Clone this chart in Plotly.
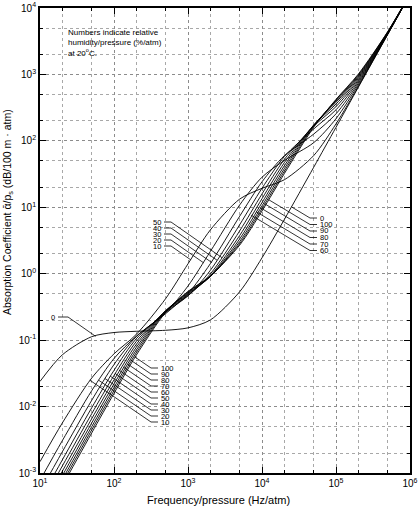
import numpy as np
import plotly.graph_objects as go

# frequency / pressure (Hz/atm)
FREQ = [10, 20, 50, 1e2, 2e2, 5e2, 1e3, 2e3, 5e3, 1e4, 2e4, 5e4, 1e5, 2e5, 5e5, 1e6]

# absorption coefficient (dB/100 m.atm), one list per relative humidity/pressure
RH_0 = [0.0239, 0.0600, 0.1128, 0.1302, 0.1359, 0.1408, 0.1531, 0.2010, 0.5366, 1.735, 6.527, 40.09, 159.9, 639.3, 3995, 15980]
RH_10 = [0.00148, 0.00565, 0.0269, 0.0622, 0.1220, 0.4231, 1.409, 4.549, 13.31, 19.32, 25.94, 60.08, 180.0, 659.4, 4015, 16000]
RH_20 = [0.000775, 0.00306, 0.01736, 0.0529, 0.1147, 0.2590, 0.6535, 2.156, 10.87, 28.38, 50.56, 93.96, 215.6, 695.5, 4051, 16036]
RH_30 = [0.000523, 0.00208, 0.01243, 0.0429, 0.1126, 0.2511, 0.5005, 1.412, 7.355, 24.19, 59.77, 126.6, 255.0, 736.7, 4093, 16078]
RH_40 = [0.000395, 0.00157, 0.00960, 0.0351, 0.1049, 0.2624, 0.4654, 1.121, 5.483, 19.36, 57.83, 151.2, 293.3, 779.8, 4138, 16123]
RH_50 = [0.000317, 0.00127, 0.00781, 0.0294, 0.0954, 0.2728, 0.4664, 0.9886, 4.424, 15.89, 52.42, 166.1, 328.0, 822.8, 4183, 16169]
RH_60 = [0.000265, 0.00106, 0.00657, 0.0252, 0.0862, 0.2783, 0.4802, 0.9281, 3.772, 13.47, 46.85, 172.8, 357.6, 864.6, 4230, 16216]
RH_70 = [0.000228, 0.000909, 0.00567, 0.0219, 0.0779, 0.2791, 0.4977, 0.9039, 3.345, 11.75, 42.02, 173.6, 381.5, 904.7, 4276, 16264]
RH_80 = [0.000199, 0.000797, 0.00498, 0.0194, 0.0708, 0.2759, 0.5149, 0.8999, 3.052, 10.49, 38.02, 170.8, 399.6, 942.3, 4322, 16311]
RH_90 = [0.000178, 0.000709, 0.00445, 0.0174, 0.0646, 0.2701, 0.5300, 0.9078, 2.846, 9.532, 34.75, 166.0, 412.6, 977.2, 4368, 16359]
RH_100 = [0.000160, 0.000639, 0.00401, 0.0158, 0.0594, 0.2626, 0.5421, 0.9225, 2.699, 8.790, 32.05, 160.3, 421.0, 1009, 4414, 16407]

CURVES = {0: RH_0, 10: RH_10, 20: RH_20, 30: RH_30, 40: RH_40, 50: RH_50,
          60: RH_60, 70: RH_70, 80: RH_80, 90: RH_90, 100: RH_100}

X_TICKS = [1e1, 1e2, 1e3, 1e4, 1e5, 1e6]
X_TICKTEXT = ["10<sup>1</sup>", "10<sup>2</sup>", "10<sup>3</sup>", "10<sup>4</sup>", "10<sup>5</sup>", "10<sup>6</sup>"]
Y_TICKS = [1e-3, 1e-2, 1e-1, 1e0, 1e1, 1e2, 1e3, 1e4]
Y_TICKTEXT = ["10<sup>-3</sup>", "10<sup>-2</sup>", "10<sup>-1</sup>", "10<sup>0</sup>",
              "10<sup>1</sup>", "10<sup>2</sup>", "10<sup>3</sup>", "10<sup>4</sup>"]

# page geometry (px) -> plot area
W, H = 418, 508
ML, MR, MT, MB = 40, 8, 8, 35
PW, PH = W - ML - MR, H - MT - MB
FONT = "Liberation Sans, Arial, sans-serif"


def to_log(px, py):
    return 1 + 5 * (px - ML) / PW, 4 - 7 * (py - MT) / PH


def paper(px, py):
    return (px - ML) / PW, 1 - (py - MT) / PH


def leader(values, px, py, dx, dy):
    """walk from the kink (px, py) along (dx, dy) until the curve is met"""
    lx, ly = np.log10(FREQ), np.log10(values)
    x0, y0 = to_log(px, py)
    s0 = np.sign(y0 - np.interp(x0, lx, ly))
    for t in np.arange(0.2, 200, 0.2):
        xl, yl = to_log(px + dx * t, py + dy * t)
        if np.sign(yl - np.interp(xl, lx, ly)) != s0:
            return 10 ** xl, 10 ** yl
    return 10 ** x0, 10 ** y0


fig = go.Figure()
for hr, vals in CURVES.items():
    fig.add_trace(go.Scatter(
        x=FREQ, y=vals, mode="lines", name=f"{hr} %/atm",
        line=dict(color="black", width=0.9, shape="spline", smoothing=0.8),
        showlegend=False,
    ))

annotations = []
# (humidity, text px, text py, anchor, horizontal run, diagonal direction)
groups = []
for i, hr in enumerate([100, 90, 80, 70, 60, 50, 40, 30, 20, 10]):
    groups.append((hr, 159, 368 + 6 * i, "left", -7, (-3, -2.05)))
for i, hr in enumerate([50, 40, 30, 20, 10]):
    groups.append((hr, 163, 222 + 6 * i, "right", 7, (3, 2.1)))
for i, hr in enumerate([0, 100, 90, 80, 70, 60]):
    groups.append((hr, 318, 218 + 6.5 * i, "left", -7, (-3, -1.8)))
groups.append((0, 57, 317, "right", 10, (3, 2.1)))

for hr, tx, ty, anchor, run, (dx, dy) in groups:
    start = tx - 1 if anchor == "left" else tx + 1
    kink = start + run
    ex, ey = leader(CURVES[hr], kink, ty, dx, dy)
    sx, sy = to_log(start, ty)
    kx, ky = to_log(kink, ty)
    fig.add_trace(go.Scatter(
        x=[10 ** sx, 10 ** kx, ex], y=[10 ** sy, 10 ** ky, ey], mode="lines",
        line=dict(color="black", width=0.8), showlegend=False, hoverinfo="skip",
    ))
    px_, py_ = paper(tx, ty)
    annotations.append(dict(
        x=px_, y=py_, xref="paper", yref="paper", text=str(hr), showarrow=False,
        xanchor=anchor, yanchor="middle", font=dict(size=7.5, color="black", family=FONT),
    ))

nx, ny = paper(66, 26)
annotations.append(dict(
    x=nx, y=ny, xref="paper", yref="paper", showarrow=False, align="left",
    xanchor="left", yanchor="top",
    text="Numbers indicate relative<br>humidity/pressure (%/atm)<br>at 20<sup>o</sup>C.",
    font=dict(size=8, color="black", family=FONT),
))
yx, yy = paper(8, 212)
annotations.append(dict(
    x=yx, y=yy, xref="paper", yref="paper", showarrow=False, textangle=-90,
    xanchor="center", yanchor="middle",
    text="Absorption Coefficient ᾱ/p<sub>s</sub> (dB/100 m · atm)",
    font=dict(size=10.5, color="black", family=FONT),
))
xx, xy = paper(218, 500)
annotations.append(dict(
    x=xx, y=xy, xref="paper", yref="paper", showarrow=False,
    xanchor="center", yanchor="middle",
    text="Frequency/pressure (Hz/atm)",
    font=dict(size=11, color="black", family=FONT),
))

axis_style = dict(
    type="log", ticks="inside", ticklen=6, tickwidth=1, tickcolor="black",
    showline=True, linecolor="black", linewidth=1.8, mirror="ticks",
    showgrid=True, gridcolor="#8c8c8c", griddash="dot", gridwidth=0.8,
    zeroline=False, automargin=False,
    tickfont=dict(size=10, color="black", family=FONT),
    minor=dict(ticks="inside", ticklen=3, tickcolor="black", showgrid=True,
               gridcolor="#a8a8a8", griddash="dot", gridwidth=0.6),
)

fig.update_layout(
    width=W, height=H,
    margin=dict(l=ML, r=MR, t=MT, b=MB, pad=0),
    plot_bgcolor="white", paper_bgcolor="white",
    font=dict(family=FONT, color="black"),
    xaxis=dict(axis_style, range=[1, 6], tickvals=X_TICKS, ticktext=X_TICKTEXT),
    yaxis=dict(axis_style, range=[-3, 4], tickvals=Y_TICKS, ticktext=Y_TICKTEXT),
    annotations=annotations,
)

# the page is photographed from its top-left corner: drop the default body margin
fig.write_html(
    "out.html",
    config={"displayModeBar": False},
    post_script="document.body.style.margin = '0px';",
)
